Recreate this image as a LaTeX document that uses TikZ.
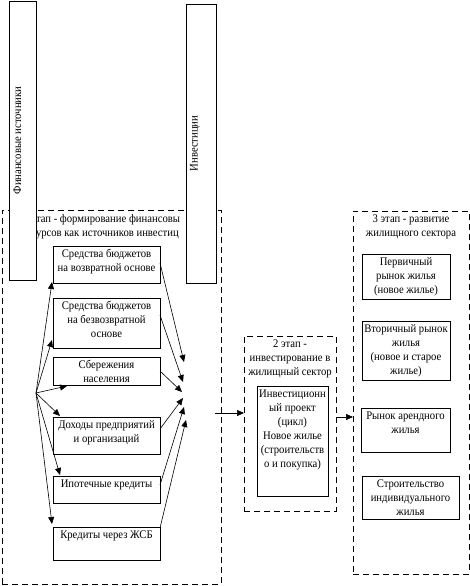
\documentclass[tikz,border=0pt]{standalone}
\usepackage{fontspec}
\setmainfont{Liberation Serif}[FakeStretch=0.92]
\usetikzlibrary{arrows.meta,calc}
\newcommand\tst{\rule{0pt}{11pt}}
\newcommand\tbx[3]{\parbox[t][#2pt][t]{#1pt}{\centering\tst #3}}
\begin{document}
\begin{tikzpicture}[
  x=1pt, y=-1pt,
  every node/.style={font=\fontsize{11.6}{14}\selectfont, inner sep=0pt, outer sep=0pt},
  box/.style={draw, fill=white, line width=0.8pt, anchor=north west},
  stage/.style={draw, dash pattern=on 6pt off 4pt, line width=0.8pt, anchor=north west},
  arr/.style={line width=0.6pt, -{Triangle[length=7pt,width=6pt]}}
]
\useasboundingbox (0,0) rectangle (470,586);

% stage frames
\node[stage] (s1) at (2,210) {\tbx{219}{374}{}};
\node[stage] (s2) at (244,336) {\tbx{92}{175}{2 этап -\\инвестирование в\\жилищный сектор}};
\node[stage] (s3) at (353,211) {\tbx{116}{363}{3 этап - развитие\\жилищного сектора}};

% stage 1 title (visible part)
\node[anchor=north west, align=left] (t1) at (36,211) {\tst тап - формирование финансовы\\урсов как источников инвестиц};

% columns
\node[box, anchor=center, rotate=90] (fin) at (22.5,140.5) {\parbox[t][27pt][t]{279pt}{\centering\rule{0pt}{12pt}Финансовые источники}};
\node[box, anchor=center, rotate=90] (invc) at (201,143.5) {\parbox[t][30pt][t]{279pt}{\centering\rule{0pt}{11.5pt}Инвестиции}};

% stage 1 boxes
\node[box] (b1) at (53,246) {\tbx{107}{37}{Средства бюджетов\\на возвратной основе}};
\node[box] (b2) at (53,298) {\tbx{107}{50}{Средства бюджетов\\на безвозвратной\\основе}};
\node[box] (b3) at (53,357) {\tbx{107}{28}{Сбережения\\населения}};
\node[box] (b4) at (53,417) {\tbx{107}{37}{Доходы предприятий\\и организаций}};
\node[box] (b5) at (53,476) {\tbx{107}{27}{Ипотечные кредиты}};
\node[box] (b6) at (53,527) {\tbx{107}{33}{Кредиты через ЖСБ}};

% stage 2 box
\node[box] (inv) at (257,386) {\tbx{71}{110}{Инвестиционн\\ый проект\\(цикл)\\Новое жилье\\(строительств\\о и покупка)}};

% stage 3 boxes
\node[box] (p1) at (362,254) {\tbx{88}{45}{Первичный\\рынок жилья\\(новое жилье)}};
\node[box] (p2) at (362,321) {\tbx{88}{59}{\makebox[88pt]{Вторичный рынок}\\жилья\\(новое и старое\\жилье)}};
\node[box] (p3) at (361,408) {\tbx{89}{44}{Рынок арендного\\жилья}};
\node[box] (p4) at (362,476) {\tbx{97}{43}{Строительство\\индивидуального\\жилья}};

% hub arrows
\coordinate (h) at (36,393);
\draw[arr] (h) -- ($(b1.south west)+(-1,-1)$);
\draw[arr] (h) -- ($(b2.south west)+(-1,-8)$);
\draw[arr] (h) -- ($(b3.south west)+(14,1)$);
\draw[arr] (h) -- ($(b4.north west)+(7,-1)$);
\draw[arr] (h) -- ($(b5.north west)+(7,-1)$);
\draw[arr] (h) -- ($(b6.north west)+(-1,-3)$);

% converging arrows
\coordinate (r1) at (184,362);
\coordinate (r2) at (183,382);
\coordinate (r3) at (182,392);
\coordinate (r4) at (183,398);
\coordinate (r5) at (184,407);
\coordinate (r6) at (186,420);
\draw[arr] ($(b1.north east)+(0,17)$) -- (r1);
\draw[arr] ($(b2.north east)+(0,17)$) -- (r2);
\draw[arr] (b3.east) -- (r3);
\draw[arr] ($(b4.north east)+(0,12)$) -- (r4);
\draw[arr] ($(b5.north east)+(0,9)$) -- (r5);
\draw[arr] ($(b6.north east)+(0,1)$) -- (r6);

% inter-stage arrows
\coordinate (a1) at (215,413);
\draw[arr] (a1) -- (a1 -| s2.west);
\coordinate (a2) at (336,417);
\draw[arr] (a2) -- (a2 -| s3.west);
\end{tikzpicture}
\end{document}
